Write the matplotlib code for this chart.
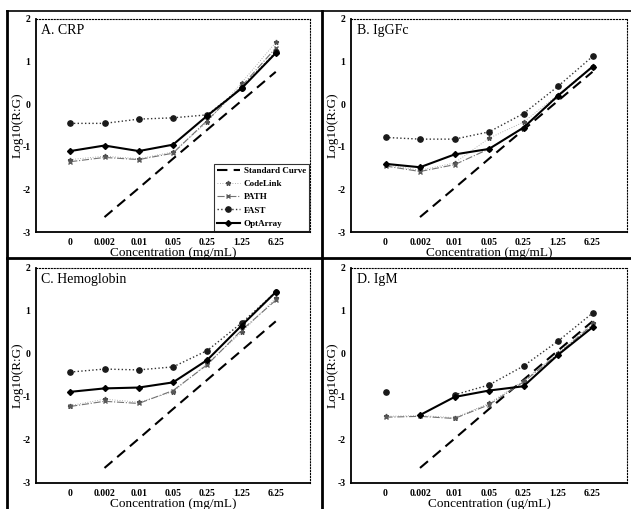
import numpy as np
import matplotlib
matplotlib.use("Agg")
import matplotlib.pyplot as plt
from matplotlib.lines import Line2D

plt.rcParams['font.family'] = ['Liberation Serif', 'DejaVu Serif']
plt.rcParams['axes.unicode_minus'] = False

nan = np.nan
conc_labels = ["0", "0.002", "0.01", "0.05", "0.25", "1.25", "6.25"]
standard = [nan, -2.65, -1.97, -1.28, -0.60, 0.08, 0.76]

# A. CRP
codelink_A = [-1.30, -1.22, -1.28, -1.12, -0.42, 0.50, 1.45]
path_A = [-1.35, -1.25, -1.30, -1.15, -0.38, 0.42, 1.32]
fast_A = [-0.45, -0.45, -0.35, -0.32, -0.25, 0.38, 1.22]
opt_A = [-1.10, -0.97, -1.10, -0.95, -0.27, 0.37, 1.20]

# B. IgGFc
codelink_B = [-1.42, -1.55, -1.38, -0.80, -0.42, 0.22, 0.90]
path_B = [-1.45, -1.58, -1.42, -1.05, -0.55, 0.18, 0.88]
fast_B = [-0.78, -0.82, -0.82, -0.65, -0.22, 0.42, 1.12]
opt_B = [-1.40, -1.48, -1.18, -1.05, -0.55, 0.20, 0.88]

# C. Hemoglobin
codelink_C = [-1.20, -1.05, -1.12, -0.88, -0.22, 0.50, 1.30]
path_C = [-1.22, -1.10, -1.15, -0.85, -0.25, 0.55, 1.25]
fast_C = [-0.42, -0.35, -0.37, -0.30, 0.08, 0.72, 1.44]
opt_C = [-0.88, -0.80, -0.78, -0.66, -0.14, 0.66, 1.44]

# D. IgM
codelink_D = [-1.45, -1.43, -1.48, -1.15, -0.62, 0.02, 0.72]
path_D = [-1.47, -1.45, -1.50, -1.18, -0.65, 0.00, 0.68]
fast_D = [-0.88, nan, -0.95, -0.72, -0.28, 0.30, 0.95]
opt_D = [nan, -1.42, -1.00, -0.85, -0.75, -0.02, 0.62]

titles = ["A. CRP", "B. IgGFc", "C. Hemoglobin", "D. IgM"]
xlabels = ["Concentration (mg/mL)", "Concentration (mg/mL)",
           "Concentration (mg/mL)", "Concentration (ug/mL)"]
panels = [(codelink_A, path_A, fast_A, opt_A),
          (codelink_B, path_B, fast_B, opt_B),
          (codelink_C, path_C, fast_C, opt_C),
          (codelink_D, path_D, fast_D, opt_D)]

W, H = 631, 509
fig = plt.figure(figsize=(W / 100, H / 100), dpi=100)

# axes boxes in pixels: left, right, top, bottom
boxes = [(36, 310, 19, 232), (351, 627, 19, 232),
         (36, 310, 268, 483), (351, 627, 268, 483)]

x = np.arange(len(conc_labels))
for i, (l, r, t, b) in enumerate(boxes):
    ax = fig.add_axes([l / W, 1 - b / H, (r - l) / W, (b - t) / H])
    cl, pa, fa, op = panels[i]
    ax.plot(x, standard, color='black', ls=(0, (5, 3)), lw=1.5, label='Standard Curve')
    ax.plot(x, cl, color='0.6', ls=(0, (1, 2)), lw=0.6, marker='*', ms=3.5,
            mfc='0.3', mec='0.3', label='CodeLink')
    ax.plot(x, pa, color='0.45', ls='-.', lw=0.8, marker='x', ms=3,
            mec='0.35', label='PATH')
    ax.plot(x, fa, color='0.2', ls=':', lw=1.0, marker='o', ms=3.8,
            mfc='0.1', mec='0.1', label='FAST')
    ax.plot(x, op, color='black', ls='-', lw=1.5, marker='D', ms=3, label='OptArray')

    ax.set_xlim(-1, 7)
    ax.set_ylim(-3, 2)
    ax.set_xticks(x)
    ax.set_xticklabels(conc_labels)
    ax.set_yticks([-3, -2, -1, 0, 1, 2])
    ax.tick_params(length=0, labelsize=7, pad=4)
    for lab in ax.get_xticklabels() + ax.get_yticklabels():
        lab.set_fontweight('bold')
    ax.set_xlabel(xlabels[i], fontsize=9.5, labelpad=0)
    ax.set_ylabel("Log10(R:G)", fontsize=9.5, labelpad=-1)
    ax.text(0.02, 0.975, titles[i], transform=ax.transAxes, ha='left', va='top', fontsize=10)
    for side in ['left', 'bottom']:
        ax.spines[side].set_linewidth(1.3)
    for side in ['top', 'right']:
        ax.spines[side].set_linewidth(0.8)
        ax.spines[side].set_linestyle(':')
    if i == 0:
        leg = ax.legend(loc='lower right', fontsize=6.5, frameon=True, fancybox=False,
                        handlelength=2.6, borderpad=0.3, labelspacing=0.55,
                        handletextpad=0.4, borderaxespad=0.15)
        leg.get_frame().set_edgecolor('black')
        leg.get_frame().set_linewidth(0.8)
        for txt in leg.get_texts():
            txt.set_fontweight('bold')

# panel dividers
fig.add_artist(Line2D([322 / W, 322 / W], [0, 1 - 11 / H], color='black', lw=2))
fig.add_artist(Line2D([7 / W, 1], [1 - 258 / H, 1 - 258 / H], color='black', lw=2))
fig.add_artist(Line2D([7 / W, 7 / W], [0, 1 - 11 / H], color='black', lw=2))
fig.add_artist(Line2D([7 / W, 1], [1 - 11 / H, 1 - 11 / H], color='black', lw=1.2))

fig.savefig("out.png", dpi=100)
